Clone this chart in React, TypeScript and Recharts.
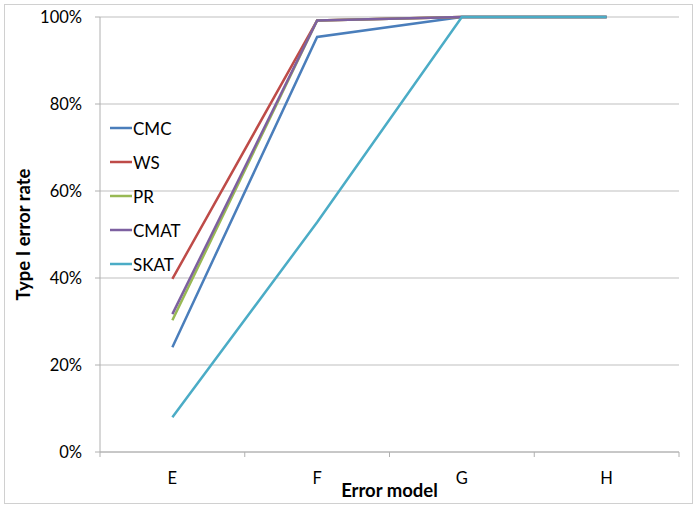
import { CartesianGrid, Legend, Line, LineChart, XAxis, YAxis } from "recharts";

const categories = ["E", "F", "G", "H"];
const cmc = [24.1, 95.4, 100, 100];
const ws = [39.8, 99.2, 100, 100];
const pr = [30.3, 99.2, 100, 100];
const cmat = [31.7, 99.2, 100, 100];
const skat = [8.0, 52.8, 100, 100];
const yTicks = [0, 20, 40, 60, 80, 100];

const seriesList = [
  { key: "CMC", values: cmc, color: "#4a7ebb" },
  { key: "WS", values: ws, color: "#be4b48" },
  { key: "PR", values: pr, color: "#98b954" },
  { key: "CMAT", values: cmat, color: "#7d60a0" },
  { key: "SKAT", values: skat, color: "#4bacc6" }
];
const seriesOrder = seriesList.map((s) => s.key);

const data = categories.map((cat, i) => {
  const row: Record<string, string | number> = { cat };
  seriesList.forEach((s) => {
    row[s.key] = s.values[i];
  });
  return row;
});

const font = "Lato, 'Open Sans', sans-serif";
const axisColor = "#b0b0b0";
const tickGap = 20;

function CategoryTick(props: any) {
  const { x, y, payload } = props;
  const half = payload.offset ?? 0;
  const axisY = y - tickGap;
  const isLast = payload.value === categories[categories.length - 1];
  return (
    <g>
      <line x1={x - half} x2={x - half} y1={axisY} y2={axisY + 5} stroke={axisColor} />
      {isLast && <line x1={x + half} x2={x + half} y1={axisY} y2={axisY + 5} stroke={axisColor} />}
      <text x={x} y={y} dy="0.71em" textAnchor="middle" fill="#000" fontSize={16.5} fontFamily={font}>
        {payload.value}
      </text>
    </g>
  );
}

function LegendBox(props: any) {
  const payload = [...(props.payload ?? [])].sort(
    (a: any, b: any) => seriesOrder.indexOf(a.value) - seriesOrder.indexOf(b.value)
  );
  return (
    <div style={{ fontFamily: font, fontSize: 17, color: "#000" }}>
      {payload.map((entry: any) => (
        <div key={entry.value} style={{ display: "flex", alignItems: "center", height: 34 }}>
          <svg width={22} height={4} style={{ marginRight: 1 }}>
            <line x1={0} x2={22} y1={2} y2={2} stroke={entry.color} strokeWidth={2.5} />
          </svg>
          <span>{entry.value}</span>
        </div>
      ))}
    </div>
  );
}

export default function App() {
  return (
    <div style={{ position: "absolute", left: 0, top: 0, width: 699, height: 509, background: "#fff" }}>
      <div
        style={{
          position: "absolute",
          left: 4,
          top: 4,
          width: 689,
          height: 500,
          border: "1px solid #d0d0d0",
          boxSizing: "border-box"
        }}
      />
      <div style={{ position: "absolute", left: 0, top: 0 }}>
        <LineChart width={699} height={509} data={data} margin={{ top: 17, right: 20, bottom: 12, left: 0 }}>
          <CartesianGrid stroke="#bfbfbf" vertical={false} />
          <XAxis
            dataKey="cat"
            scale="band"
            height={45}
            axisLine={{ stroke: axisColor }}
            tickLine={false}
            tickSize={0}
            tickMargin={tickGap}
            tick={<CategoryTick />}
            interval={0}
            label={{
              value: "Error model",
              position: "insideBottom",
              offset: 0,
              style: { fontFamily: font, fontSize: 18.5, fontWeight: 700, fill: "#000" }
            }}
          />
          <YAxis
            width={100}
            domain={[0, 100]}
            ticks={yTicks}
            tickFormatter={(v) => `${v}%`}
            axisLine={{ stroke: axisColor }}
            tickLine={{ stroke: axisColor }}
            tickSize={5}
            tickMargin={13}
            tick={{ fill: "#000", fontSize: 16.5, fontFamily: font }}
            label={{
              value: "Type I error rate",
              angle: -90,
              position: "insideLeft",
              offset: 23,
              style: { fontFamily: font, fontSize: 18.5, fontWeight: 700, fill: "#000", textAnchor: "middle" }
            }}
          />
          <Legend
            layout="vertical"
            align="center"
            verticalAlign="middle"
            content={<LegendBox />}
            wrapperStyle={{ left: 110, top: 111, width: 100 }}
          />
          {seriesList.map((s) => (
            <Line
              key={s.key}
              type="linear"
              dataKey={s.key}
              stroke={s.color}
              strokeWidth={2.5}
              dot={false}
              activeDot={false}
              isAnimationActive={false}
            />
          ))}
        </LineChart>
      </div>
    </div>
  );
}
